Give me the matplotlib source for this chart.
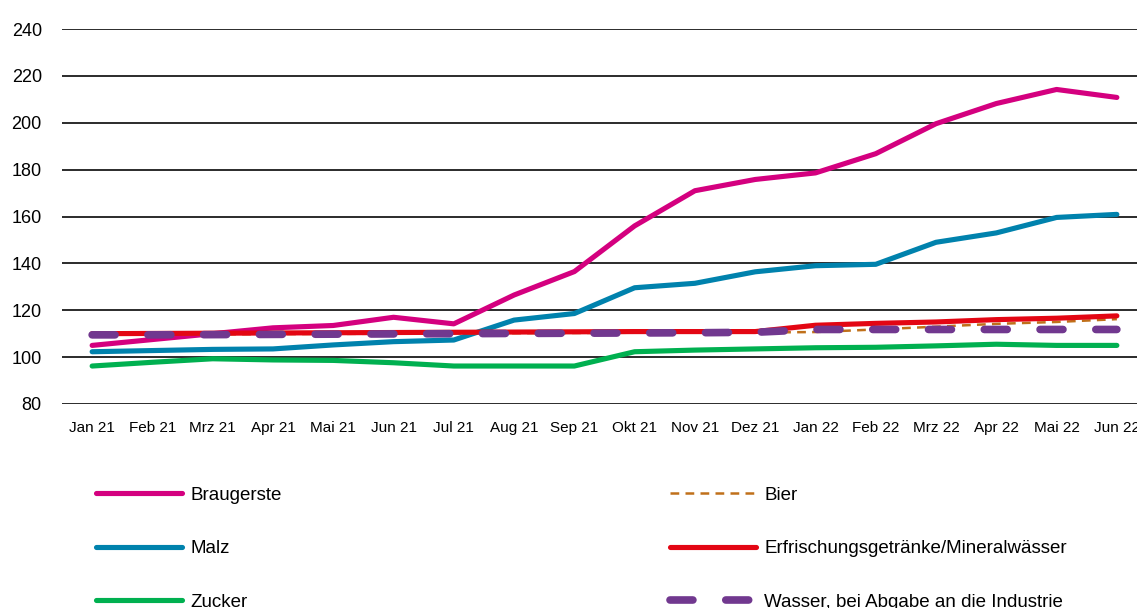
import matplotlib
matplotlib.use("Agg")
import matplotlib.pyplot as plt
from matplotlib import font_manager

months = ["Jan 21", "Feb 21", "Mrz 21", "Apr 21", "Mai 21", "Jun 21", "Jul 21", "Aug 21", "Sep 21",
          "Okt 21", "Nov 21", "Dez 21", "Jan 22", "Feb 22", "Mrz 22", "Apr 22", "Mai 22", "Jun 22"]

braugerste = [105.0, 107.5, 110.0, 112.5, 113.5, 117.0, 114.2, 126.5, 136.5,
              156.0, 171.0, 175.8, 178.6, 186.8, 199.6, 208.2, 214.2, 210.8]
malz = [102.3, 102.8, 103.3, 103.5, 105.2, 106.6, 107.3, 115.8, 118.6,
        129.6, 131.5, 136.4, 139.0, 139.6, 149.0, 153.0, 159.6, 160.9]
zucker = [96.2, 97.8, 99.3, 98.8, 98.6, 97.6, 96.2, 96.2, 96.2,
          102.3, 103.0, 103.5, 104.0, 104.2, 104.8, 105.5, 105.0, 105.0]
bier = [109.5, 109.6, 109.7, 109.8, 109.9, 110.0, 110.1, 110.2, 110.3,
        110.4, 110.5, 110.5, 110.7, 111.8, 113.0, 114.2, 115.0, 116.2]
erfrischung = [110.0, 110.1, 110.2, 110.3, 110.4, 110.5, 110.6, 110.7, 110.8,
               110.9, 110.9, 110.9, 113.6, 114.4, 115.0, 116.0, 116.6, 117.6]
wasser = [109.5, 109.5, 109.6, 109.7, 109.8, 109.9, 110.0, 110.1, 110.2,
          110.3, 110.4, 110.6, 111.8, 111.8, 111.8, 111.8, 111.8, 111.8]

yticks = [80, 100, 120, 140, 160, 180, 200, 220, 240]

names = [f.name for f in font_manager.fontManager.ttflist]
fam = ["Liberation Sans Narrow", "Liberation Sans", "DejaVu Sans"] if "Liberation Sans Narrow" in names else ["Liberation Sans", "DejaVu Sans"]
plt.rcParams["font.family"] = fam

W, H = 1137, 608
fig = plt.figure(figsize=(W / 100, H / 100), dpi=100)
ax = fig.add_axes([62 / W, (H - 404) / H, 1085 / W, 375 / H])

x = list(range(len(months)))
LW = 3.7
ax.plot(x, braugerste, color="#D4007F", lw=LW, solid_capstyle="round", label="Braugerste", zorder=3)
ax.plot(x, malz, color="#0082AD", lw=LW, solid_capstyle="round", label="Malz", zorder=3)
ax.plot(x, zucker, color="#00B050", lw=LW, solid_capstyle="round", label="Zucker", zorder=3)
ax.plot(x, bier, color="#C0701A", lw=1.8, dashes=(3.5, 2.5), label="Bier", zorder=3)
ax.plot(x, erfrischung, color="#E30613", lw=LW, solid_capstyle="round",
        label="Erfrischungsgetränke/Mineralwässer", zorder=3)
ax.plot(x, wasser, color="#71388F", lw=5.5, dashes=(3.0, 4.3), dash_capstyle="round",
        label="Wasser, bei Abgabe an die Industrie", zorder=4)

ax.set_xlim(-0.5, len(months) - 0.5)
ax.set_ylim(80, 240)
ax.set_yticks(yticks)
ax.set_xticks(x)
ax.set_xticklabels(months, fontsize=11)
ax.tick_params(axis="y", labelsize=13, length=0, pad=14.5)
ax.tick_params(axis="x", length=0, pad=12)
ax.grid(axis="y", color="#1a1a1a", lw=1.3)
ax.set_axisbelow(True)
for s in ax.spines.values():
    s.set_visible(False)

h, l = ax.get_legend_handles_labels()
common = dict(loc="upper left", frameon=False, fontsize=13.5, handlelength=4.6,
              handletextpad=0.45, labelspacing=1.95, borderaxespad=0)
leg1 = fig.legend(h[:3], l[:3], bbox_to_anchor=(88 / W, 1 - 479 / H), **common)
leg2 = fig.legend(h[3:], l[3:], bbox_to_anchor=(662 / W, 1 - 479 / H), **common)

fig.savefig("out.png", dpi=100)
